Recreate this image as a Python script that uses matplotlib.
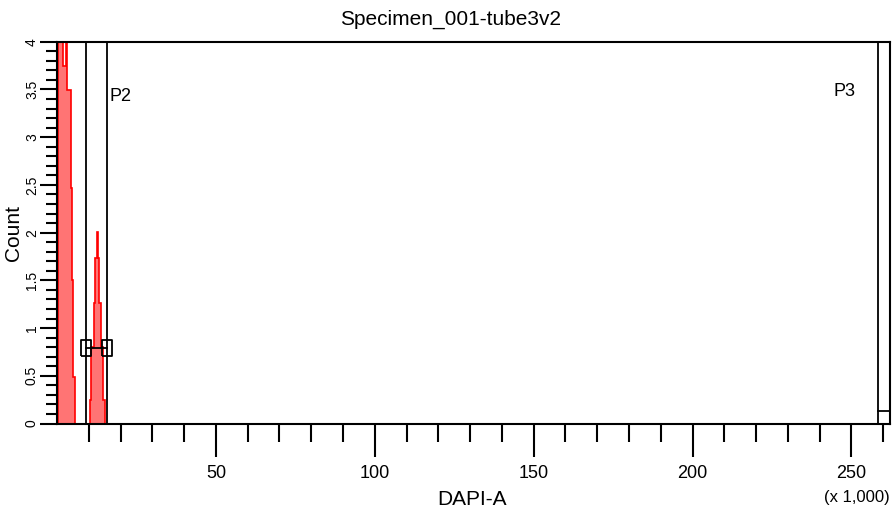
import matplotlib.pyplot as plt
from matplotlib.ticker import MultipleLocator, FixedLocator

plt.rcParams['font.family'] = ['Liberation Sans Narrow', 'Liberation Sans', 'DejaVu Sans']

# DAPI-A in thousands, counts per bin
peak1_edges = [0.3, 2.0, 2.75, 3.25, 4.3, 4.7, 5.05, 5.55]
peak1_counts = [5.0, 3.75, 5.0, 3.49, 2.47, 1.5, 0.49]
peak2_edges = [10.5, 10.8, 11.55, 12.05, 12.6, 12.9, 13.15, 13.95, 14.5, 15.0]
peak2_counts = [0.25, 0.8, 1.26, 1.73, 2.01, 1.73, 1.26, 0.8, 0.25]

p2_range = [9.1, 15.65]
p2_level = 0.79
p3_range = [258.4, 262.144]
p3_level = 0.13

x_major = [50, 100, 150, 200, 250]
x_minor = list(range(10, 261, 10))

fig = plt.figure(figsize=(8.92, 5.18), dpi=100)
ax = fig.add_axes([0.0639, 0.1824, 0.9339, 0.7371])

fill = '#ff7474'
ax.stairs(peak1_counts, peak1_edges, fill=True, facecolor=fill, edgecolor='red', linewidth=1.2)
ax.stairs(peak2_counts, peak2_edges, fill=True, facecolor=fill, edgecolor='red', linewidth=1.2)

ax.set_xlim(0, 262.144)
ax.set_ylim(0, 4)

# gates
box = [(-0.6, -1), (0.6, -1), (0.6, 1), (-0.6, 1), (-0.6, -1)]
for x in p2_range:
    ax.axvline(x, color='black', linewidth=1.3)
ax.plot(p2_range, [p2_level, p2_level], color='black', linewidth=1.3,
        marker=box, markersize=11, markerfacecolor='none', markeredgecolor='black',
        markeredgewidth=1.3)
ax.text(16.6, 3.38, 'P2', fontsize=13)

for x in p3_range:
    ax.axvline(x, color='black', linewidth=1.3)
ax.plot(p3_range, [p3_level, p3_level], color='black', linewidth=1.3)
ax.text(244.3, 3.43, 'P3', fontsize=13)

ax.xaxis.set_major_locator(FixedLocator(x_major))
ax.xaxis.set_minor_locator(FixedLocator([v for v in x_minor if v not in x_major]))
ax.yaxis.set_major_locator(MultipleLocator(0.5))
ax.yaxis.set_minor_locator(MultipleLocator(0.1))
ax.yaxis.set_major_formatter(plt.FuncFormatter(lambda v, p: f'{v:g}'))

ax.tick_params(axis='x', which='major', length=24, width=1.5, labelsize=13, pad=6)
ax.tick_params(axis='x', which='minor', length=13, width=1.5)
ax.tick_params(axis='y', which='major', length=12, width=1.5, labelsize=10, labelrotation=90, pad=1)
ax.tick_params(axis='y', which='minor', length=8, width=1.5)
for lab in ax.get_yticklabels():
    lab.set_verticalalignment('center')

for s in ax.spines.values():
    s.set_linewidth(1.5)

ax.set_xlabel('DAPI-A', fontsize=15)
ax.xaxis.set_label_coords(0.498, -0.175)
ax.set_ylabel('Count', fontsize=15)
ax.yaxis.set_label_coords(-0.041, 0.5)
fig.text(0.998, 0.04, '(x 1,000)', fontsize=12, ha='right', va='center')
fig.text(0.505, 0.962, 'Specimen_001-tube3v2', fontsize=15, ha='center', va='center')

fig.savefig('out.png', dpi=100)
